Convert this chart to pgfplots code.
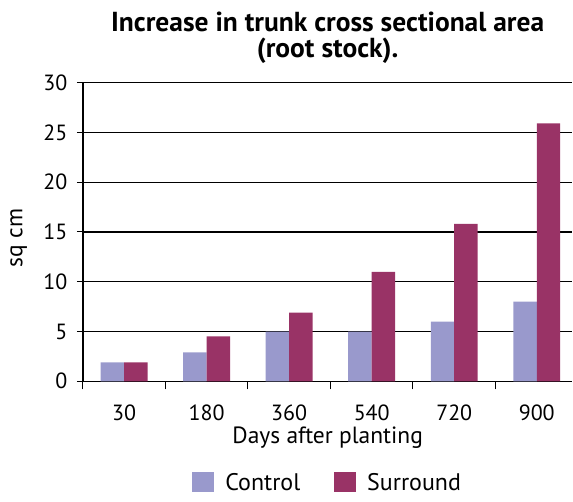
\documentclass[border=0pt]{standalone}
\usepackage{pgfplots}
\pgfplotsset{compat=1.18}
\usepackage{fontspec}
\setmainfont{PT Sans}
\definecolor{ctrl}{RGB}{153,153,204}
\definecolor{surr}{RGB}{153,51,102}
\begin{document}
\begin{tikzpicture}
\begin{axis}[
  scale only axis,
  width=490pt, height=299pt,
  ybar=0pt, bar width=23.5pt,
  xmin=-0.5, xmax=5.432,
  ymin=0, ymax=30,
  ytick={0,5,...,30},
  xtick={0,...,5},
  xticklabels={30,180,360,540,720,900},
  minor xtick={-0.5,0.5,...,4.5},
  major x tick style={draw=none},
  minor x tick style={black, line width=1pt},
  minor tick length=8pt,
  y tick style={black, line width=1pt},
  major tick length=6pt,
  tick align=outside,
  xtick pos=bottom, ytick pos=left,
  axis x line*=bottom, axis y line*=left,
  axis line style={black, line width=1.2pt, -},
  ymajorgrids, grid style={black, line width=1.2pt},
  tick label style={font=\fontsize{22}{26}\selectfont},
  xticklabel style={anchor=base, yshift=-33pt, inner sep=1pt},
  yticklabel style={xshift=-6pt},
  /pgf/number format/assume math mode=true,
  xlabel={Days after planting},
  ylabel={sq cm},
  label style={font=\fontsize{23.5}{26}\selectfont},
  xlabel style={at={(axis description cs:0.5,0)}, anchor=base, yshift=-62.5pt, inner sep=1pt},
  ylabel style={at={(axis description cs:-0.131,0.48)}, anchor=center},
  title={Increase in trunk cross sectional area\\(root stock).},
  title style={font=\bfseries\fontsize{27.5}{26}\selectfont, align=center,
    at={(axis description cs:0.5,1)}, anchor=south, inner sep=0pt, yshift=13pt},
  legend style={at={(axis description cs:0.5,0)}, anchor=center, yshift=-102pt,
    draw=none, legend columns=2,
    font=\fontsize{24}{26}\selectfont,
    /tikz/every odd column/.append style={column sep=9pt},
    /tikz/every even column/.append style={column sep=32pt}},
  legend image code/.code={\fill[#1] (0pt,-9pt) rectangle (22pt,11pt);},
  clip=false,
]
\addplot[fill=ctrl, draw=none] coordinates {(0,1.9) (1,2.9) (2,5) (3,5) (4,6) (5,8)};
\addplot[fill=surr, draw=none] coordinates {(0,1.9) (1,4.5) (2,6.9) (3,11) (4,15.8) (5,25.9)};
\legend{Control, Surround}
\end{axis}
\path[use as bounding box] (-83pt,-120.3pt) rectangle (490pt,381.7pt);
\end{tikzpicture}
\end{document}
